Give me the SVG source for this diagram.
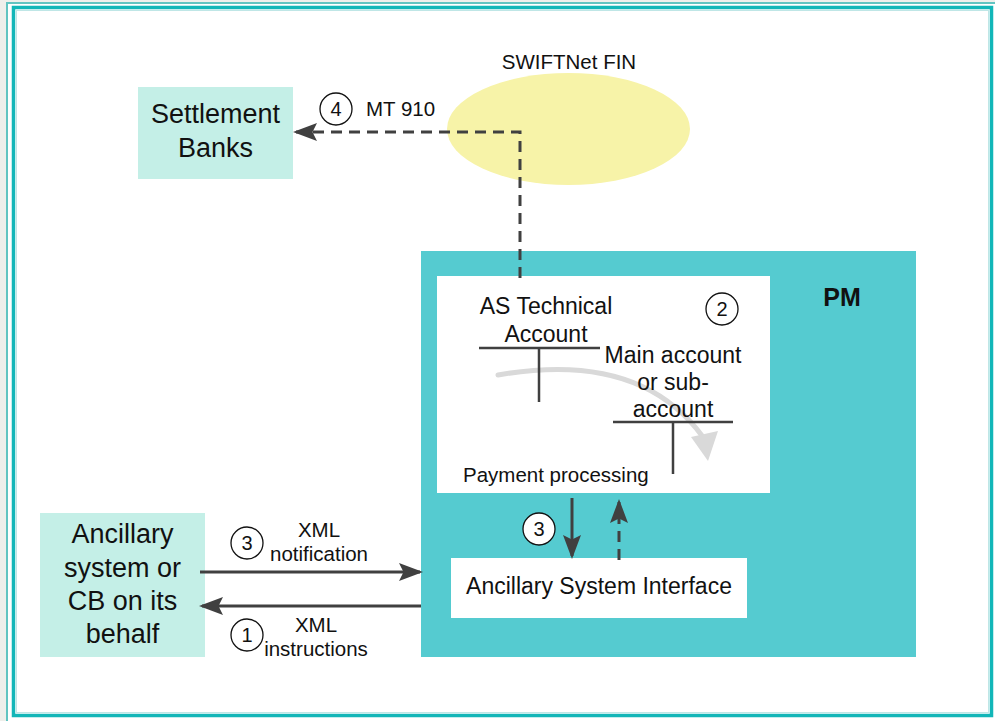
<svg xmlns="http://www.w3.org/2000/svg" width="995" height="721" viewBox="0 0 995 721">
<style>
text{font-family:"Liberation Sans",Arial,sans-serif;fill:#111}
.lbl{font-size:20.5px}
.big{font-size:27px}
.mid{font-size:23px}
.num{font-size:20px;text-anchor:middle}
.c{fill:#fff;stroke:#111;stroke-width:1.3}
.mint{fill:#c4efe7}
.conn{stroke:#404040;stroke-width:3;fill:none}
.dash{stroke-dasharray:11,7}
.tacc{stroke:#404040;stroke-width:2.5;fill:none}
</style>
<defs>
<marker id="ah" markerWidth="8" markerHeight="6" refX="7" refY="3" orient="auto" markerUnits="strokeWidth">
<path d="M0,0 L8,3 L0,6 L1.5,3 Z" fill="#404040"/>
</marker>
</defs>
<rect x="0" y="0" width="995" height="721" fill="#efefeb"/>
<rect x="7" y="3" width="995" height="725" fill="#fff" stroke="#62c4c1" stroke-width="2"/>
<rect x="13.5" y="7.5" width="978" height="708" fill="#fff" stroke="#12b6b8" stroke-width="3.5"/>
<rect x="16.5" y="10.5" width="972" height="702" fill="none" stroke="#bfe6e6" stroke-width="1"/>

<g id="swiftnet">
<ellipse cx="568.5" cy="129" rx="121.5" ry="56" fill="#f7f3a8"/>
<text class="lbl" x="569" y="69" text-anchor="middle">SWIFTNet FIN</text>
</g>

<g id="settlement-banks">
<rect class="mint" x="138" y="87" width="155" height="92"/>
<text class="big" x="215.5" y="123" text-anchor="middle">Settlement</text>
<text class="big" x="215.5" y="157" text-anchor="middle">Banks</text>
</g>

<g id="pm">
<rect x="421" y="251" width="495" height="406" fill="#55cbd0"/>
<text x="842" y="306" text-anchor="middle" style="font-size:25px;font-weight:bold">PM</text>
</g>

<g id="payment-processing">
<rect x="437" y="276" width="333" height="217" fill="#fff"/>
<path d="M498,375 Q640,350 703,437" stroke="#d9d9d9" stroke-width="5" fill="none" stroke-linecap="round"/>
<polygon points="691,437 718,431 708,461" fill="#d9d9d9"/>
<text class="mid" x="546" y="314" text-anchor="middle">AS Technical</text>
<text class="mid" x="546" y="342" text-anchor="middle">Account</text>
<path class="tacc" d="M479,348 H600 M539,348 V402"/>
<text class="mid" x="673" y="363" text-anchor="middle">Main account</text>
<text class="mid" x="673" y="390" text-anchor="middle">or sub-</text>
<text class="mid" x="673" y="417" text-anchor="middle">account</text>
<path class="tacc" d="M613,422 H733 M673,422 V474"/>
<circle class="c" cx="722" cy="309" r="16"/>
<text class="num" x="722" y="316">2</text>
<text class="lbl" x="463" y="482">Payment processing</text>
</g>

<g id="asi">
<rect x="451" y="558" width="296" height="60" fill="#fff"/>
<text class="mid" x="599" y="594" text-anchor="middle">Ancillary System Interface</text>
</g>

<g id="ancillary-system">
<rect class="mint" x="40" y="513" width="165" height="144"/>
<text class="big" x="122.5" y="543" text-anchor="middle">Ancillary</text>
<text class="big" x="122.5" y="577" text-anchor="middle">system or</text>
<text class="big" x="122.5" y="610" text-anchor="middle">CB on its</text>
<text class="big" x="122.5" y="643" text-anchor="middle">behalf</text>
</g>

<g id="connectors">
<path class="conn dash" d="M520,278 V132 H296" marker-end="url(#ah)"/>
<path class="conn" d="M572,498 V556" marker-end="url(#ah)"/>
<path class="conn dash" d="M619,560 V502" marker-end="url(#ah)"/>
<path class="conn" d="M200,572 H420" marker-end="url(#ah)"/>
<path class="conn" d="M421,606 H202" marker-end="url(#ah)"/>
</g>

<g id="labels">
<circle class="c" cx="336" cy="109" r="16"/>
<text class="num" x="336" y="116">4</text>
<text class="lbl" x="366" y="116">MT 910</text>
<circle class="c" cx="539" cy="529" r="16"/>
<text class="num" x="539" y="536">3</text>
<circle class="c" cx="247" cy="543" r="16"/>
<text class="num" x="247" y="550">3</text>
<text class="lbl" x="319" y="537" text-anchor="middle">XML</text>
<text class="lbl" x="319" y="561" text-anchor="middle">notification</text>
<circle class="c" cx="247" cy="635" r="16"/>
<text class="num" x="247" y="642">1</text>
<text class="lbl" x="316" y="632" text-anchor="middle">XML</text>
<text class="lbl" x="316" y="656" text-anchor="middle">instructions</text>
</g>
</svg>
